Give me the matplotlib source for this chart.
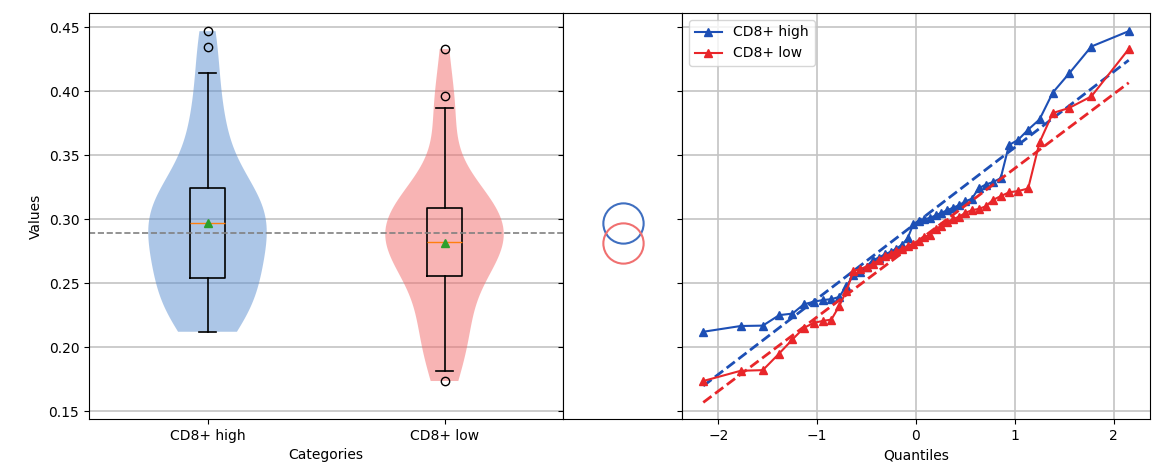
import numpy as np
import matplotlib.pyplot as plt
from statistics import NormalDist

categories = ["CD8+ high", "CD8+ low"]

# sorted sample values per group
cd8_high = [0.2120, 0.2165, 0.2168, 0.2250, 0.2262, 0.2335, 0.2355, 0.2368, 0.2375, 0.2392,
            0.2480, 0.2560, 0.2590, 0.2630, 0.2680, 0.2700, 0.2725, 0.2745, 0.2770, 0.2800,
            0.2850, 0.2960, 0.2985, 0.3000, 0.3010, 0.3030, 0.3050, 0.3070, 0.3090, 0.3110,
            0.3140, 0.3160, 0.3240, 0.3270, 0.3290, 0.3320, 0.3580, 0.3620, 0.3700, 0.3780,
            0.3990, 0.4140, 0.4350, 0.4470]
cd8_low = [0.1735, 0.1815, 0.1820, 0.1950, 0.2060, 0.2150, 0.2190, 0.2205, 0.2215, 0.2320,
           0.2440, 0.2595, 0.2610, 0.2630, 0.2650, 0.2680, 0.2710, 0.2730, 0.2750, 0.2770,
           0.2790, 0.2810, 0.2830, 0.2860, 0.2880, 0.2920, 0.2950, 0.2980, 0.3000, 0.3020,
           0.3050, 0.3070, 0.3080, 0.3100, 0.3150, 0.3180, 0.3210, 0.3220, 0.3240, 0.3600,
           0.3830, 0.3870, 0.3960, 0.4330]

fill_colors = ["#5b8fd0", "#f26b6b"]
ring_colors = ["#3f6fc0", "#f07070"]
line_colors = ["#1d4fb5", "#e8262a"]


def normal_quantiles(n):
    # Filliben order statistic medians
    m = (np.arange(1, n + 1) - 0.3175) / (n + 0.365)
    m[-1] = 0.5 ** (1.0 / n)
    m[0] = 1 - m[-1]
    nd = NormalDist()
    return np.array([nd.inv_cdf(p) for p in m])


groups = [np.sort(np.array(cd8_high)), np.sort(np.array(cd8_low))]
grand_mean = np.mean(np.concatenate(groups))

fig = plt.figure(figsize=(11.52, 4.72), dpi=100)
bottom, height = 53 / 472, 406 / 472
ax1 = fig.add_axes([89 / 1152, bottom, 474 / 1152, height])
ax2 = fig.add_axes([563 / 1152, bottom, 119 / 1152, height], sharey=ax1)
ax3 = fig.add_axes([682 / 1152, bottom, 468 / 1152, height], sharey=ax1)

# violins + boxes
ax1.set_axisbelow(True)
ax1.yaxis.grid(True, color="#c4c4c4", lw=1.2)
vp = ax1.violinplot(groups, positions=[0, 1], widths=0.5, showextrema=False)
for body, c in zip(vp["bodies"], fill_colors):
    body.set_facecolor(c)
    body.set_edgecolor("none")
    body.set_alpha(0.5)
ax1.boxplot(groups, positions=[0, 1], widths=0.15, showmeans=True,
            boxprops=dict(lw=1.2), whiskerprops=dict(lw=1.2), capprops=dict(lw=1.2))
ax1.axhline(grand_mean, color="gray", ls="--", lw=1.2)
ax1.set_xticks([0, 1])
ax1.set_xticklabels(categories)
ax1.set_xlim(-0.5, 1.5)
ax1.set_ylim(0.1438, 0.4612)
ax1.set_xlabel("Categories")
ax1.set_ylabel("Values")

# group means
for g, c in zip(groups, ring_colors):
    ax2.plot(0, g.mean(), "o", ms=29, mfc="none", mec=c, mew=1.5)
ax2.set_xlim(-1, 1)
ax2.set_xticks([])
ax2.tick_params(labelleft=False)

# normal Q-Q
ax3.grid(True, color="#c4c4c4", lw=1.2)
ax3.set_axisbelow(True)
for g, c, lab in zip(groups, line_colors, categories):
    q = normal_quantiles(len(g))
    ax3.plot(q, g, "-^", color=c, ms=6, lw=1.5, label=lab)
    slope, icpt = np.polyfit(q, g, 1)
    ax3.plot(q, slope * q + icpt, "--", color=c, lw=2)
ax3.set_xticks([-2, -1, 0, 1, 2])
ax3.tick_params(labelleft=False)
ax3.set_xlabel("Quantiles")
ax3.legend(loc="upper left")

fig.savefig("out.png")
